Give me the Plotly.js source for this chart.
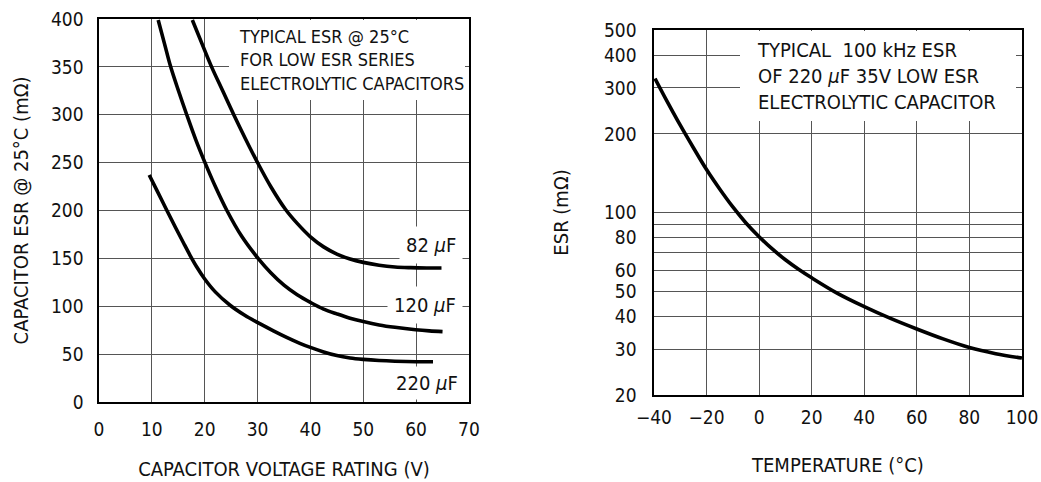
<!DOCTYPE html>
<html>
<head>
<meta charset="utf-8">
<script src="https://cdn.plot.ly/plotly-3.0.1.min.js"></script>
<style>html,body{margin:0;padding:0;background:#fff;}#chart{width:1041px;height:482px;}</style>
</head>
<body>
<div id="chart"></div>
<script>
// Left chart: ESR @ 25°C vs capacitor voltage rating
const v82 = [17.66, 19.5, 21.3, 23.4, 25.5, 27.7, 30, 32.6, 35.3, 37.5, 40, 42.5, 45, 47.5, 50, 53, 56, 59, 62, 64.8];
const esr82 = [399, 374, 350, 325, 300, 275, 250, 224, 201, 186.5, 172.5, 162, 154.5, 149.3, 145.8, 142.8, 141, 140.3, 140, 140];
const v120 = [11.2, 12.4, 13.56, 15.1, 16.6, 18.3, 20.05, 22.1, 24.2, 27, 30.1, 32.5, 35, 37.5, 40, 42.5, 45, 47.5, 50, 53, 56, 59.9, 62.5, 65];
const esr120 = [399, 374, 350, 324, 300, 274, 250, 224, 200, 173, 150, 135, 122, 112, 104, 97, 92, 87.5, 84, 80.5, 78, 75.5, 74.3, 73.5];
const v220 = [9.5, 11, 12.8, 14.5, 16, 17.2, 18.5, 20, 22, 24.8, 27.5, 30.5, 33, 35.5, 38, 40, 42.5, 45, 47.5, 50, 53, 56, 60, 63.2];
const esr220 = [237, 220.5, 200.5, 182, 166, 153.5, 141, 128.5, 115, 101, 90.8, 81.5, 74.3, 67.5, 61.3, 57, 52.3, 48.5, 46, 44.5, 43.3, 42.6, 42.1, 42];

// Right chart: 100 kHz ESR of 220 µF 35V vs temperature
const tempC = [-39.6, -35, -30, -25, -20, -15, -10, -5, 0, 5, 10, 15, 20, 30, 40, 50, 60, 70, 80, 90, 100];
const esrT = [326, 266.5, 216, 177, 146, 123, 105, 91.2, 80.8, 72.5, 65.9, 60.6, 56.2, 48.9, 43.6, 39.3, 35.8, 32.8, 30.4, 28.8, 27.7];

const leftXTicks = [0, 10, 20, 30, 40, 50, 60, 70];
const leftYTicks = [0, 50, 100, 150, 200, 250, 300, 350, 400];
const rightXTicks = [-40, -20, 0, 20, 40, 60, 80, 100];
const rightYTicks = [20, 30, 40, 50, 60, 80, 100, 200, 300, 400, 500];
const rightYMinor = [70, 90];

const FONT = '"DejaVu Sans Condensed", "Liberation Sans Narrow", "Liberation Sans", Arial, sans-serif';
const fnt = {family: FONT, size: 19, color: '#111'};
const titleFnt = {family: FONT, size: 20, color: '#111'};
const noteFnt = {family: FONT, size: 18, color: '#111'};
const noteFnt2 = {family: FONT, size: 20, color: '#111'};
const labelFnt = {family: FONT, size: 20, color: '#111'};
const GRID = '#555';

const line = {color: '#000', width: 3.6, shape: 'spline', smoothing: 1};
const traces = [
  {x: v82, y: esr82, xaxis: 'x', yaxis: 'y', mode: 'lines', line: line, name: '82 µF'},
  {x: v120, y: esr120, xaxis: 'x', yaxis: 'y', mode: 'lines', line: line, name: '120 µF'},
  {x: v220, y: esr220, xaxis: 'x', yaxis: 'y', mode: 'lines', line: line, name: '220 µF'},
  {x: tempC, y: esrT, xaxis: 'x2', yaxis: 'y2', mode: 'lines', line: line, name: 'ESR'}
];

const axBase = {
  showgrid: true, gridcolor: GRID, gridwidth: 1,
  showline: true, linecolor: '#000', linewidth: 1.6, mirror: true,
  ticks: '', zeroline: false, tickfont: fnt, fixedrange: true
};

const layout = {
  width: 1041, height: 482,
  margin: {l: 0, r: 0, t: 0, b: 0},
  paper_bgcolor: '#fff', plot_bgcolor: '#fff',
  showlegend: false,
  font: fnt,
  xaxis: Object.assign({}, axBase, {
    domain: [0.0951, 0.4505], range: [0, 70], tickmode: 'array', tickvals: leftXTicks,
    anchor: 'y', ticklabelstandoff: 10,
    title: {text: 'CAPACITOR VOLTAGE RATING (V)', font: titleFnt, standoff: 22}
  }),
  yaxis: Object.assign({}, axBase, {
    domain: [0.166, 0.9606], range: [0, 400], tickmode: 'array', tickvals: leftYTicks,
    anchor: 'x', ticklabelstandoff: 10,
    title: {text: 'CAPACITOR ESR @ 25°C (mΩ)', font: titleFnt, standoff: 17}
  }),
  xaxis2: Object.assign({}, axBase, {
    domain: [0.6282, 0.9817], range: [-40, 100], tickmode: 'array', tickvals: rightXTicks,
    anchor: 'y2', ticklabelstandoff: 5,
    title: {text: 'TEMPERATURE (°C)', font: titleFnt, standoff: 30}
  }),
  yaxis2: Object.assign({}, axBase, {
    domain: [0.1805, 0.9378], type: 'log', range: [Math.log10(20), Math.log10(500)],
    tickmode: 'array', tickvals: rightYTicks, ticktext: rightYTicks.map(String),
    minor: {tickmode: 'array', tickvals: rightYMinor, showgrid: true, gridcolor: GRID, gridwidth: 1, ticks: ''},
    anchor: 'x2', ticklabelstandoff: 12,
    title: {text: 'ESR (mΩ)', font: titleFnt, standoff: 30}
  }),
  annotations: [
    // white boxes that break the grid behind the notes
    {xref: 'x domain', yref: 'y domain', x: 0.351, y: 0.997, xanchor: 'left', yanchor: 'top',
     width: 236, height: 80, bgcolor: '#fff', borderpad: 0, borderwidth: 0, showarrow: false, text: '&#160;'},
    {xref: 'x2 domain', yref: 'y2 domain', x: 0.234, y: 0.997, xanchor: 'left', yanchor: 'top',
     width: 276, height: 90, bgcolor: '#fff', borderpad: 0, borderwidth: 0, showarrow: false, text: '&#160;'},
    {xref: 'x domain', yref: 'y domain', x: 0.373, y: 0.893, xanchor: 'left', yanchor: 'middle', align: 'left',
     showarrow: false, font: noteFnt,
     text: 'TYPICAL ESR @ 25°C<br>FOR LOW ESR SERIES<br>ELECTROLYTIC CAPACITORS'},
    {xref: 'x2 domain', yref: 'y2 domain', x: 0.2745, y: 0.874, xanchor: 'left', yanchor: 'middle', align: 'left',
     showarrow: false, font: noteFnt2,
     text: 'TYPICAL  100 kHz ESR<br>OF 220 <i>μ</i>F 35V LOW ESR<br>ELECTROLYTIC CAPACITOR'},
    {xref: 'x domain', yref: 'y domain', x: 0.984, y: 0.411, xanchor: 'right', yanchor: 'middle',
     showarrow: false, font: labelFnt, bgcolor: '#fff', borderpad: 6, text: '82 <i>μ</i>F'},
    {xref: 'x domain', yref: 'y domain', x: 0.984, y: 0.253, xanchor: 'right', yanchor: 'middle',
     showarrow: false, font: labelFnt, bgcolor: '#fff', borderpad: 6, text: '120 <i>μ</i>F'},
    {xref: 'x domain', yref: 'y domain', x: 0.984, y: 0.05, xanchor: 'right', yanchor: 'middle',
     showarrow: false, font: labelFnt, bgcolor: '#fff', borderpad: 4, text: '220 <i>μ</i>F'}
  ]
};

Plotly.newPlot('chart', traces, layout, {staticPlot: true, displayModeBar: false});
</script>
</body>
</html>
